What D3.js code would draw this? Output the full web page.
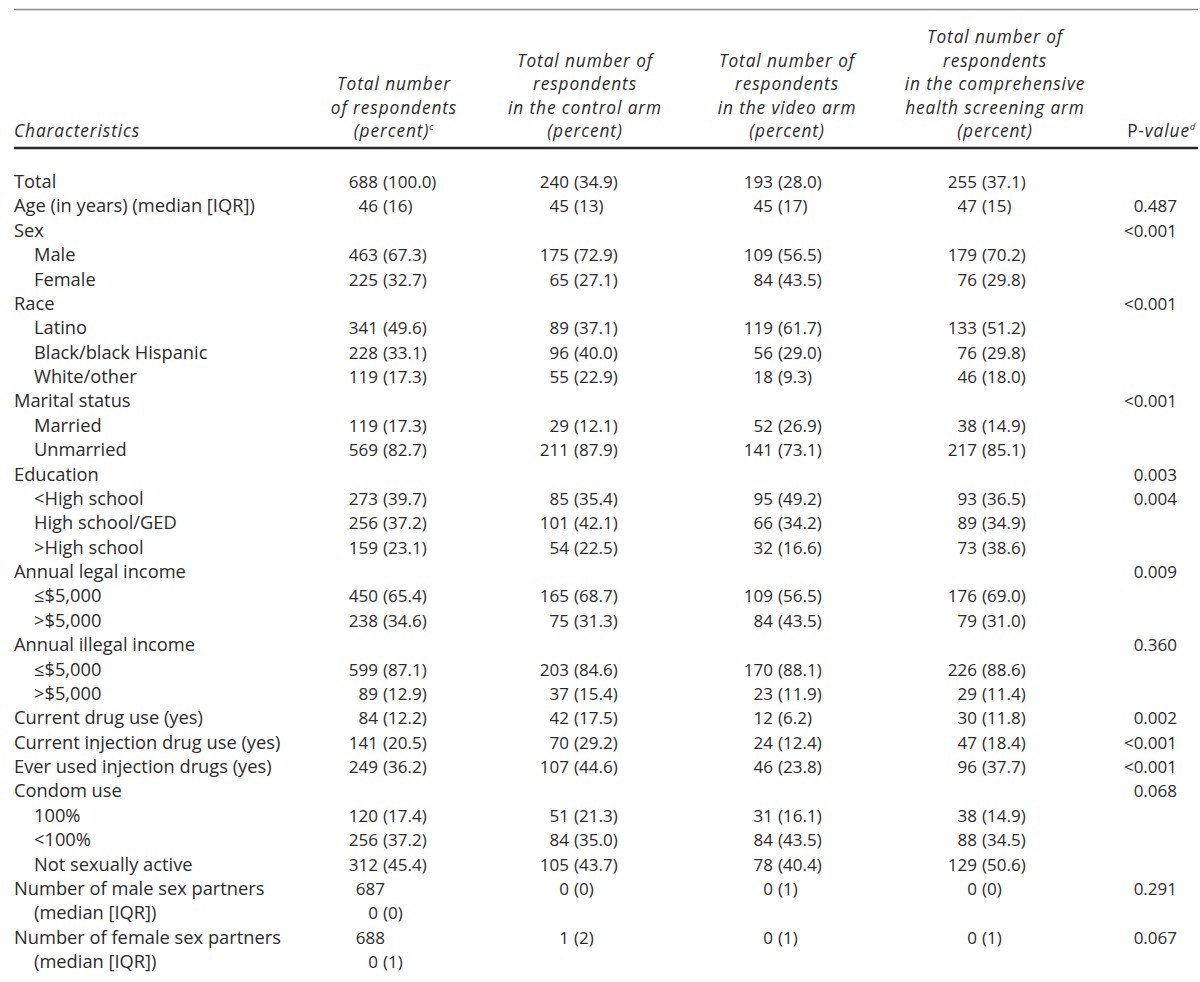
<!DOCTYPE html>
<html>
<head>
<meta charset="utf-8">
<script src="https://cdn.jsdelivr.net/npm/d3@7"></script>
<style>
  html, body { margin: 0; padding: 0; background: #fff; }
  svg text { font-family: "Open Sans", "Noto Sans", sans-serif; fill: #2b2b2b; }
</style>
</head>
<body>
<svg id="chart" width="1200" height="982"></svg>
<script>
// ---------------- DATA ----------------
const characteristics = [
  "Total", "Age (in years) (median [IQR])", "Sex", "Male", "Female",
  "Race", "Latino", "Black/black Hispanic", "White/other",
  "Marital status", "Married", "Unmarried",
  "Education", "<High school", "High school/GED", ">High school",
  "Annual legal income", "≤$5,000", ">$5,000",
  "Annual illegal income", "≤$5,000", ">$5,000",
  "Current drug use (yes)", "Current injection drug use (yes)", "Ever used injection drugs (yes)",
  "Condom use", "100%", "<100%", "Not sexually active",
  "Number of male sex partners", "(median [IQR])",
  "Number of female sex partners", "(median [IQR])"
];
const indented = [0,0,0,1,1, 0,1,1,1, 0,1,1, 0,1,1,1, 0,1,1, 0,1,1, 0,0,0, 0,1,1,1, 0,1, 0,1];
const totalRespondents = [
  "688 (100.0)", "46 (16)", "", "463 (67.3)", "225 (32.7)",
  "", "341 (49.6)", "228 (33.1)", "119 (17.3)",
  "", "119 (17.3)", "569 (82.7)",
  "", "273 (39.7)", "256 (37.2)", "159 (23.1)",
  "", "450 (65.4)", "238 (34.6)",
  "", "599 (87.1)", "89 (12.9)",
  "84 (12.2)", "141 (20.5)", "249 (36.2)",
  "", "120 (17.4)", "256 (37.2)", "312 (45.4)",
  "687", "0 (0)", "688", "0 (1)"
];
const controlArm = [
  "240 (34.9)", "45 (13)", "", "175 (72.9)", "65 (27.1)",
  "", "89 (37.1)", "96 (40.0)", "55 (22.9)",
  "", "29 (12.1)", "211 (87.9)",
  "", "85 (35.4)", "101 (42.1)", "54 (22.5)",
  "", "165 (68.7)", "75 (31.3)",
  "", "203 (84.6)", "37 (15.4)",
  "42 (17.5)", "70 (29.2)", "107 (44.6)",
  "", "51 (21.3)", "84 (35.0)", "105 (43.7)",
  "0 (0)", "", "1 (2)", ""
];
const videoArm = [
  "193 (28.0)", "45 (17)", "", "109 (56.5)", "84 (43.5)",
  "", "119 (61.7)", "56 (29.0)", "18 (9.3)",
  "", "52 (26.9)", "141 (73.1)",
  "", "95 (49.2)", "66 (34.2)", "32 (16.6)",
  "", "109 (56.5)", "84 (43.5)",
  "", "170 (88.1)", "23 (11.9)",
  "12 (6.2)", "24 (12.4)", "46 (23.8)",
  "", "31 (16.1)", "84 (43.5)", "78 (40.4)",
  "0 (1)", "", "0 (1)", ""
];
const screeningArm = [
  "255 (37.1)", "47 (15)", "", "179 (70.2)", "76 (29.8)",
  "", "133 (51.2)", "76 (29.8)", "46 (18.0)",
  "", "38 (14.9)", "217 (85.1)",
  "", "93 (36.5)", "89 (34.9)", "73 (38.6)",
  "", "176 (69.0)", "79 (31.0)",
  "", "226 (88.6)", "29 (11.4)",
  "30 (11.8)", "47 (18.4)", "96 (37.7)",
  "", "38 (14.9)", "88 (34.5)", "129 (50.6)",
  "0 (0)", "", "0 (1)", ""
];
const pValues = [
  "", "0.487", "<0.001", "", "",
  "<0.001", "", "", "",
  "<0.001", "", "",
  "0.003", "0.004", "", "",
  "0.009", "", "",
  "0.360", "", "",
  "0.002", "<0.001", "<0.001",
  "0.068", "", "", "",
  "0.291", "", "0.067", ""
];
const headerTotal = ["Total number", "of respondents", "(percent)"];
const headerControl = ["Total number of", "respondents", "in the control arm", "(percent)"];
const headerVideo = ["Total number of", "respondents", "in the video arm", "(percent)"];
const headerScreening = ["Total number of", "respondents", "in the comprehensive", "health screening arm", "(percent)"];
const headerCharacteristics = "Characteristics";
const headerP = ["P", "-value"];

// ---------------- LAYOUT ----------------
const FS_LABEL = 18.3, FS_NUM = 17, FS_HEAD = 17.3, HEAD_LS = 0.9;
const svg = d3.select("#chart");

const rowIdx = d3.range(characteristics.length);
const y = d3.scalePoint().domain(rowIdx).range([181, 961]);

const colKeys = ["total", "control", "video", "screening"];
const parenX = d3.scaleOrdinal().domain(colKeys).range([383, 574, 778, 982]);
const headCX = d3.scaleOrdinal().domain(colKeys).range([394, 585, 787, 995]);
const colData = { total: totalRespondents, control: controlArm, video: videoArm, screening: screeningArm };
const colHeads = { total: headerTotal, control: headerControl, video: headerVideo, screening: headerScreening };

const labelX = 14, indentX = 34, pRight = 1177;
const headBaseline = 137, headStep = 23.5;

// rules
svg.append("line").attr("x1", 14).attr("x2", 1198).attr("y1", 9.5).attr("y2", 9.5)
  .attr("stroke", "#8c8c8c").attr("stroke-width", 1.6);
svg.append("line").attr("x1", 14).attr("x2", 1198).attr("y1", 148).attr("y2", 148)
  .attr("stroke", "#2a2a2a").attr("stroke-width", 2.5);

const base = d => y(d) + 7;

// characteristic labels
svg.append("g").selectAll("text").data(rowIdx).join("text")
  .attr("x", d => indented[d] ? indentX : labelX)
  .attr("y", base)
  .attr("font-size", FS_LABEL)
  .text(d => characteristics[d]);

// numeric columns
colKeys.forEach(k => {
  const g = svg.append("g");
  const vals = colData[k];
  const px = parenX(k);
  rowIdx.filter(i => vals[i] !== "").forEach(i => {
    const s = vals[i];
    const cut = s.indexOf(" (");
    if (cut >= 0) {
      g.append("text").attr("x", px - 5).attr("y", base(i)).attr("font-size", FS_NUM)
        .attr("text-anchor", "end").text(s.slice(0, cut));
      g.append("text").attr("x", px).attr("y", base(i)).attr("font-size", FS_NUM)
        .attr("text-anchor", "start").text(s.slice(cut + 1));
    } else {
      g.append("text").attr("x", px + 2).attr("y", base(i)).attr("font-size", FS_NUM)
        .attr("text-anchor", "end").text(s);
    }
  });
  const lines = colHeads[k];
  const hg = svg.append("g");
  lines.forEach((ln, j) => {
    const t = hg.append("text")
      .attr("x", headCX(k))
      .attr("y", headBaseline - (lines.length - 1 - j) * headStep)
      .attr("font-size", FS_HEAD).attr("font-style", "italic")
      .attr("letter-spacing", HEAD_LS)
      .attr("text-anchor", "middle");
    t.append("tspan").text(ln);
    if (k === "total" && j === lines.length - 1) {
      t.append("tspan").attr("font-size", 9).attr("dy", -7).text("c");
    }
  });
});

// p-values
svg.append("g").selectAll("text").data(rowIdx.filter(i => pValues[i] !== "")).join("text")
  .attr("x", pRight).attr("y", base)
  .attr("font-size", FS_NUM).attr("text-anchor", "end")
  .text(d => pValues[d]);

// header characteristics + P-value
svg.append("text").attr("x", labelX).attr("y", headBaseline)
  .attr("font-size", FS_HEAD).attr("font-style", "italic").attr("letter-spacing", HEAD_LS)
  .text(headerCharacteristics);
const pt = svg.append("text").attr("x", 1196).attr("y", headBaseline).attr("font-size", FS_HEAD)
  .attr("letter-spacing", HEAD_LS).attr("text-anchor", "end");
pt.append("tspan").text(headerP[0]);
pt.append("tspan").attr("font-style", "italic").text(headerP[1]);
pt.append("tspan").attr("font-style", "italic").attr("font-size", 9).attr("dy", -7).text("d");
</script>
</body>
</html>
